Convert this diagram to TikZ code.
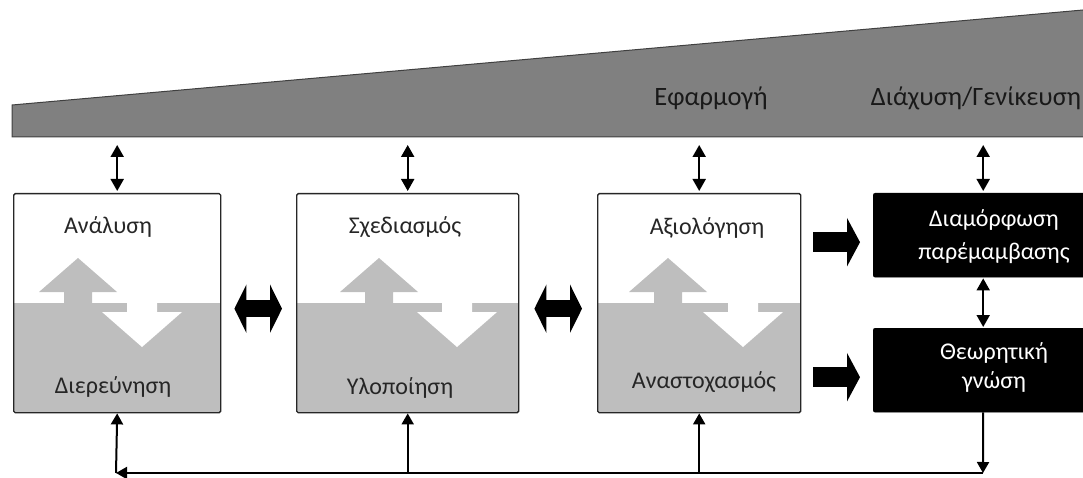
\documentclass[tikz,border=0pt]{standalone}
\usepackage{fontspec}
\setmainfont{Carlito}
\usetikzlibrary{arrows.meta}
\definecolor{wedgegray}{HTML}{808080}
\definecolor{softgray}{HTML}{BEBEBE}
\definecolor{inkgray}{HTML}{262626}
\begin{document}
\begin{tikzpicture}[x=1pt,y=-1pt,
  lbl/.style={font=\fontsize{24}{28}\selectfont, text=inkgray, inner sep=0},
  wedgelbl/.style={font=\fontsize{26.5}{30}\selectfont, text=black!90, inner sep=0},
  wlbl/.style={lbl, text=white},
  stagebox/.style={draw=inkgray, line width=1.4pt, rounded corners=1.5pt, minimum height=219pt, inner sep=0, anchor=north west},
  blackbox/.style={fill=black, draw=black, rounded corners=2pt, inner sep=0, anchor=north west, minimum width=220pt, minimum height=84pt},
  link/.style={line width=2pt, -{Triangle[width=12pt,length=11pt]}},
  dlink/.style={line width=2pt, {Triangle[width=13pt,length=12pt]}-{Triangle[width=13pt,length=12pt]}},
  fatdbl/.style={line width=17pt, {Triangle[width=48pt,length=12pt]}-{Triangle[width=48pt,length=12pt]}},
  fatone/.style={line width=20pt, -{Triangle[width=48pt,length=13pt]}},
  upgray/.style={fill=softgray},
  downwhite/.style={fill=white}
]
\clip (0,0) rectangle (1083,478);
% wedge
\fill[wedgegray, draw=black!75, line width=1pt] (12,137) -- (12,105) -- (1083,10) -- (1086,10) -- (1086,137) -- cycle;
\node[wedgelbl] (wl1) at (711,98) {Εφαρμογή};
\node[wedgelbl] (wl2) at (976,98) {Διάχυση/Γενίκευση};
\coordinate (wbase) at (0,145);

% box interiors
% box 1: left 13 right 220, up 78, down 142
\fill[softgray] (13,303) rectangle (220,412);
\fill[downwhite] (127,300) -- (157,300) -- (157,312) -- (182,312) -- (142,347) -- (102,312) -- (127,312) -- cycle;
\fill[upgray] (64,303) -- (64,292) -- (39,292) -- (78,258) -- (117,292) -- (92,292) -- (92,303) -- cycle;
% box 2: left 296 right 518, up 379, down 457
\fill[softgray] (296,303) rectangle (518,412);
\fill[downwhite] (442,300) -- (472,300) -- (472,312) -- (497,312) -- (457,347) -- (417,312) -- (442,312) -- cycle;
\fill[upgray] (365,303) -- (365,292) -- (340,292) -- (379,258) -- (418,292) -- (393,292) -- (393,303) -- cycle;
% box 3: left 597 right 800, up 668, down 743
\fill[softgray] (597,303) rectangle (800,412);
\fill[downwhite] (728,300) -- (758,300) -- (758,312) -- (783,312) -- (743,347) -- (703,312) -- (728,312) -- cycle;
\fill[upgray] (654,303) -- (654,292) -- (629,292) -- (668,258) -- (707,292) -- (682,292) -- (682,303) -- cycle;

% stage boxes
\node[stagebox, minimum width=207pt] (b1) at (13,193) {};
\node[stagebox, minimum width=222pt] (b2) at (296,193) {};
\node[stagebox, minimum width=203pt] (b3) at (597,193) {};

\node[lbl] (b1t) at (108,227) {Ανάλυση};
\node[lbl] (b1b) at (113,387) {Διερεύνηση};
\node[lbl] (b2t) at (405,227) {Σχεδιασμός};
\node[lbl] (b2b) at (400,388) {Υλοποίηση};
\node[lbl] (b3t) at (707,228) {Αξιολόγηση};
\node[lbl] (b3b) at (704,382) {Αναστοχασμός};

% black boxes
\node[blackbox] (k1) at (873,193) {};
\node[blackbox] (k2) at (873,328) {};
\node[wlbl] (k1a) at (994,220) {Διαμόρφωση};
\node[wlbl] (k1b) at (994,253) {παρέμαμβασης};
\node[wlbl] (k2a) at (994,353) {Θεωρητική};
\node[wlbl] (k2b) at (994,382) {γνώση};

% top double arrows
\draw[dlink, shorten >=2pt] (b1.north |- wbase) -- (b1.north);
\draw[dlink, shorten >=2pt] (b2.north |- wbase) -- (b2.north);
\draw[dlink, shorten >=2pt] (b3.north |- wbase) -- (b3.north);
\draw[dlink, shorten >=2pt] (k1.north |- wbase) -- (k1.north);
\draw[dlink, shorten >=1pt, shorten <=1pt] (k1.south) -- (k2.north);

% fat arrows
\draw[fatdbl] ([shift={(13,5.5)}]b1.east) -- ([shift={(-14,5.5)}]b2.west);
\draw[fatdbl] ([shift={(15,5.5)}]b2.east) -- ([shift={(-15,5.5)}]b3.west);
\draw[fatone] ([shift={(-60,7)}]k1.west) -- ([shift={(-13,7)}]k1.west);
\draw[fatone] ([shift={(-60,7)}]k2.west) -- ([shift={(-13,7)}]k2.west);

% bottom loop
\coordinate (rb) at (983,473);
\coordinate (lb) at (116,473);
\draw[link] (k2.south) -- (rb);
\draw[link] (rb) -- (lb);
\draw[link] (lb) -- (b1.south);
\draw[link] (b2.south |- rb) -- (b2.south);
\draw[link] (b3.south |- rb) -- (b3.south);
\end{tikzpicture}
\end{document}
